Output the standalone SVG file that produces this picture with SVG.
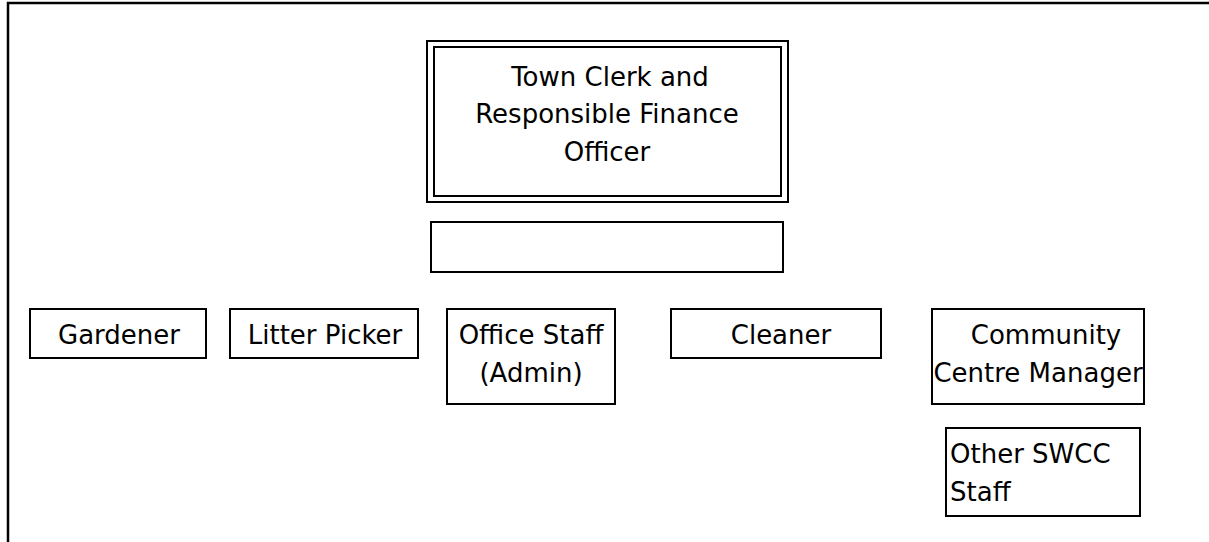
<svg xmlns="http://www.w3.org/2000/svg" width="1209" height="542" viewBox="0 0 1209 542">
<style>
.box{fill:#fff;stroke:#000;stroke-width:2}
.t{font-family:"Comic Sans MS","DejaVu Sans",sans-serif;font-size:26px;fill:#000}
.c{text-anchor:middle}
</style>
<rect width="1209" height="542" fill="#fff"/>
<g id="frame"><path d="M8 542 V3 H1209" fill="none" stroke="#000" stroke-width="2.5"/></g>
<g id="connectors"></g>
<g id="town-clerk">
<rect class="box" x="427" y="41" width="361" height="161" stroke-width="3"/>
<rect class="box" x="434" y="47" width="347" height="149"/>
<text class="t c" x="610" y="86">Town Clerk and</text>
<text class="t c" x="607" y="123">Responsible Finance</text>
<text class="t c" x="607" y="161">Officer</text>
</g>
<g id="empty"><rect class="box" x="431" y="222" width="352" height="50"/></g>
<g id="gardener"><rect class="box" x="30" y="309" width="176" height="49"/><text class="t c" x="119" y="344">Gardener</text></g>
<g id="litter-picker"><rect class="box" x="230" y="309" width="188" height="49"/><text class="t c" x="325" y="344">Litter Picker</text></g>
<g id="office-staff"><rect class="box" x="447" y="309" width="168" height="95"/><text class="t c" x="531" y="344">Office Staff</text><text class="t c" x="531" y="382">(Admin)</text></g>
<g id="cleaner"><rect class="box" x="671" y="309" width="210" height="49"/><text class="t c" x="781" y="344">Cleaner</text></g>
<g id="community"><rect class="box" x="932" y="309" width="212" height="95"/><text class="t c" x="1046" y="344">Community</text><text class="t c" x="1038" y="382">Centre Manager</text></g>
<g id="other-swcc"><rect class="box" x="946" y="428" width="194" height="88"/><text class="t" x="950" y="463">Other SWCC</text><text class="t" x="950" y="501">Staff</text></g>
</svg>
